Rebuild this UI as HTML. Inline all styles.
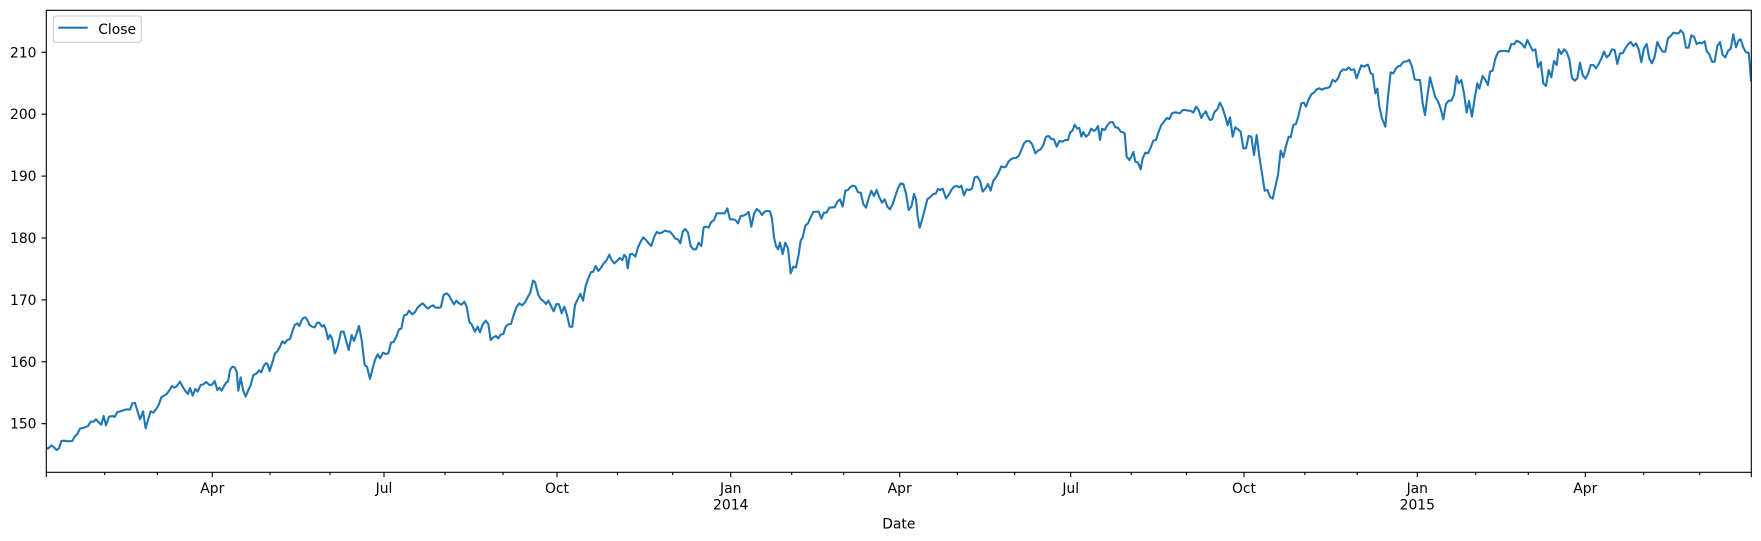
<!DOCTYPE html>
<html><head><meta charset="utf-8"><style>
html,body{margin:0;padding:0;background:#fff;}
svg{display:block;}
text{font-family:"DejaVu Sans","Liberation Sans",sans-serif;font-size:13.9px;fill:#000;}
</style></head><body>
<svg width="1761" height="541" viewBox="0 0 1761 541" xmlns="http://www.w3.org/2000/svg">
<rect width="1761" height="541" fill="#fff"/>
<defs><clipPath id="ax"><rect x="46.3" y="10.3" width="1705" height="462"/></clipPath></defs>
<g clip-path="url(#ax)" fill="none" stroke="#1f77b4" stroke-width="2.1" stroke-linejoin="round" stroke-linecap="round">
<g transform="translate(44,320) scale(0.333333)">
<polyline vector-effect="non-scaling-stroke" points="7,383 12,386 22,376 30,382 38,390 45,385 52,363 60,362 70,364 85,363 92,350 100,342 108,326 120,323 132,318 140,305 148,305 156,298 164,307 172,314 179,288 186,316 195,290 205,288 212,291 220,276 230,274 240,270 250,268 258,269 265,250 273,249 280,272 288,298 297,274 305,325 313,297 320,274 328,278 336,268 344,255 352,232 360,227 368,222 376,211 384,198 391,203 398,199 408,185 416,200 424,213 432,222 438,204 446,227 454,207 461,215 470,195 478,193 487,186 496,195 504,194 512,183 520,210 526,203 533,212 540,198 548,186 552,185 558,150 565,140 572,142 578,155 583,212 590,172 597,210 605,230 613,210 620,196 628,165 635,162 640,158 645,151 652,157 658,140 665,130 670,131 677,153 685,128 693,100 700,94 708,80 715,64 722,70 730,60 738,57 745,35 752,15 760,10 766,18 772,2 778,-6 784,-8 790,0 796,14 804,20 812,22 820,8 826,8 834,20 840,15 846,30 852,58 858,45 864,55 872,98"/>
</g>
<g transform="translate(335,210) scale(0.333333)">
<polyline vector-effect="non-scaling-stroke" points="0,430 8,410 18,365 26,365 34,395 41,420 50,375 57,393 65,370 72,348 80,390 89,465 96,470 105,507 113,475 120,450 128,433 135,445 144,428 152,432 160,430 168,398 176,396 184,380 192,358 199,356 207,316 215,314 222,302 232,313 240,306 248,293 256,285 263,280 270,287 278,296 286,290 294,286 302,293 315,293 318,290 326,255 335,250 342,256 350,272 357,283 364,272 372,280 380,284 388,275 395,290 403,336 410,343 420,365 428,350 435,367 443,343 452,332 460,342 467,390 475,382 483,378 490,385 497,374 505,372 512,350 520,343 528,342 536,315 545,290 553,280 561,286 570,277 578,262 586,247 594,212 600,216 610,255 618,268 626,274 633,282 640,272 648,288 656,304 664,282 672,283 680,310 688,290 696,315 704,350 712,350 720,285 728,268 736,252 744,272 752,228 760,205 768,186 774,186 782,168 790,183 798,173 806,160 814,152 823,134 830,150 838,160 846,153 854,144 862,150 868,135"/>
</g>
<g transform="translate(626,160) scale(0.333333)">
<polyline vector-effect="non-scaling-stroke" points="-6,285 0,290 5,325 12,283 20,282 28,290 36,262 44,245 52,232 60,240 68,250 76,258 84,232 92,216 100,220 108,218 116,212 124,214 132,215 140,224 148,236 156,238 163,250 170,215 178,207 186,218 194,258 202,268 210,268 218,248 226,258 233,202 240,200 248,203 255,187 264,180 272,160 280,160 288,160 296,160 304,145 312,178 320,178 328,180 336,190 344,168 352,167 360,163 368,156 376,200 384,162 392,147 400,153 408,165 416,155 424,153 432,154 438,176 444,232 450,258 456,268 462,248 470,282 478,248 486,265 494,340 502,320 510,322 518,283 524,242 530,232 538,197 546,190 554,172 562,156 570,155 578,155 586,176 594,158 602,158 610,143 618,142 626,142 634,125 642,118 650,140 658,92 666,90 672,82 680,77 688,79 696,97 704,98 712,132 720,143 728,115 736,92 744,108 752,90 760,112 768,128 776,118 784,140 792,148 800,132 808,108 816,85 824,70 832,72 840,100 848,150 856,140 864,102"/>
</g>
<g transform="translate(916,90) scale(0.333333)">
<polyline vector-effect="non-scaling-stroke" points="-6,312 0,328 5,380 11,413 18,390 26,360 34,328 44,320 52,312 60,310 66,297 72,300 80,296 90,325 98,315 106,300 114,290 122,288 130,292 136,287 144,316 152,298 160,300 168,296 176,262 184,260 192,272 200,305 208,296 216,282 224,302 232,272 240,262 248,248 256,229 264,232 270,230 278,214 286,207 294,204 300,204 308,198 316,180 324,160 332,153 340,153 348,162 358,190 366,182 374,178 382,165 390,140 398,138 406,147 414,148 422,170 430,153 440,155 448,150 456,150 462,128 470,121 476,104 484,116 490,114 496,140 502,126 510,140 518,133 526,116 534,123 540,118 546,108 552,150 558,116 566,120 574,106 582,97 590,96 598,112 606,113 614,125 620,126 626,130 632,200 640,210 646,200 652,186 658,215 666,218 674,238 680,205 688,188 696,190 704,173 712,152 720,150 728,125 736,105 744,95 752,84 760,87 768,70 776,67 784,68 792,70 800,60 808,60 816,62 824,62 832,68 840,50 848,60 856,84 862,72 868,68"/>
</g>
<g transform="translate(1206,40) scale(0.333333)">
<polyline vector-effect="non-scaling-stroke" points="-2,214 0,215 6,230 12,240 18,238 26,215 34,208 42,188 50,205 58,230 65,256 72,232 80,290 88,262 96,268 104,275 112,325 120,325 128,288 136,290 144,345 152,285 160,350 168,400 176,452 184,450 192,470 200,476 208,440 216,405 224,332 232,352 240,318 248,290 254,292 262,255 270,252 278,225 286,190 294,188 300,200 308,178 316,163 324,158 332,148 340,145 348,149 356,145 364,144 372,140 380,120 388,125 396,115 404,95 412,88 420,90 428,82 436,90 444,88 452,115 460,92 466,76 474,80 480,76 486,74 494,100 500,102 508,160 514,146 520,200 528,235 538,260 546,170 554,97 562,100 570,85 578,78 582,78"/>
</g>
<g transform="translate(1400,0) scale(0.333333)">
<polyline vector-effect="non-scaling-stroke" points="0,198 10,186 20,184 28,180 36,200 44,238 52,240 60,240 68,310 75,345 82,290 90,232 98,262 106,292 114,304 122,326 130,358 138,312 146,302 154,302 162,284 170,228 176,250 184,240 192,280 200,338 207,303 216,350 224,295 232,250 238,266 248,228 256,240 264,255 270,215 278,212 286,176 294,157 302,153 310,153 318,153 326,155 334,132 342,133 350,122 358,126 366,132 374,143 382,120 390,136 398,152 406,148 414,202 422,186 430,250 438,258 446,210 454,232 462,183 470,195 476,148 484,162 492,148 500,156 508,178 516,234 524,242 532,235 540,188 548,225 556,236 564,222 572,195 580,195 588,205 596,192 604,176 612,155 620,172 628,165 636,148 644,150 652,192 660,160 668,160 676,145 684,133 692,126 700,138 708,130 716,148 724,186 732,145 740,132 748,176 756,190 764,170 772,126 780,143 788,155 796,155 804,115 812,108 820,98 828,100 836,100 842,91 850,100 858,143 866,143 874,106 882,110 890,132 898,128 906,130 914,124 920,153 928,163 936,185 944,185 952,138 960,126 968,165 976,172 984,153 992,146 1000,103 1008,142 1016,121 1022,118 1030,142 1038,157 1046,158 1050,200 1053,242"/>
</g>
</g>
<!-- axes frame -->
<rect x="46.3" y="10.3" width="1705" height="462" fill="none" stroke="#000" stroke-width="1.1"/>
<!-- y ticks -->
<g stroke="#000" stroke-width="1.1">
<line x1="41.4" y1="423.7" x2="46.3" y2="423.7"/>
<line x1="41.4" y1="361.8" x2="46.3" y2="361.8"/>
<line x1="41.4" y1="299.9" x2="46.3" y2="299.9"/>
<line x1="41.4" y1="238" x2="46.3" y2="238"/>
<line x1="41.4" y1="176.1" x2="46.3" y2="176.1"/>
<line x1="41.4" y1="114.2" x2="46.3" y2="114.2"/>
<line x1="41.4" y1="52.3" x2="46.3" y2="52.3"/>
</g>
<g text-anchor="end">
<text x="36.5" y="428.7">150</text>
<text x="36.5" y="366.8">160</text>
<text x="36.5" y="304.9">170</text>
<text x="36.5" y="243">180</text>
<text x="36.5" y="181.1">190</text>
<text x="36.5" y="119.2">200</text>
<text x="36.5" y="57.3">210</text>
</g>
<!-- x major ticks -->
<g stroke="#000" stroke-width="1.1">
<line x1="46.3" y1="472.3" x2="46.3" y2="477.2"/>
<line x1="212.3" y1="472.3" x2="212.3" y2="477.2"/>
<line x1="384" y1="472.3" x2="384" y2="477.2"/>
<line x1="557" y1="472.3" x2="557" y2="477.2"/>
<line x1="730.7" y1="472.3" x2="730.7" y2="477.2"/>
<line x1="899.7" y1="472.3" x2="899.7" y2="477.2"/>
<line x1="1070.7" y1="472.3" x2="1070.7" y2="477.2"/>
<line x1="1244" y1="472.3" x2="1244" y2="477.2"/>
<line x1="1417.3" y1="472.3" x2="1417.3" y2="477.2"/>
<line x1="1585.3" y1="472.3" x2="1585.3" y2="477.2"/>
<line x1="1751.3" y1="472.3" x2="1751.3" y2="477.2"/>
</g>
<!-- x minor ticks -->
<g stroke="#000" stroke-width="1.1">
<line x1="104.7" y1="472.3" x2="104.7" y2="475.1"/>
<line x1="157.3" y1="472.3" x2="157.3" y2="475.1"/>
<line x1="270" y1="472.3" x2="270" y2="475.1"/>
<line x1="330" y1="472.3" x2="330" y2="475.1"/>
<line x1="445" y1="472.3" x2="445" y2="475.1"/>
<line x1="503" y1="472.3" x2="503" y2="475.1"/>
<line x1="617.5" y1="472.3" x2="617.5" y2="475.1"/>
<line x1="672.7" y1="472.3" x2="672.7" y2="475.1"/>
<line x1="791.7" y1="472.3" x2="791.7" y2="475.1"/>
<line x1="843.7" y1="472.3" x2="843.7" y2="475.1"/>
<line x1="957.3" y1="472.3" x2="957.3" y2="475.1"/>
<line x1="1014.7" y1="472.3" x2="1014.7" y2="475.1"/>
<line x1="1131.2" y1="472.3" x2="1131.2" y2="475.1"/>
<line x1="1186.4" y1="472.3" x2="1186.4" y2="475.1"/>
<line x1="1304.8" y1="472.3" x2="1304.8" y2="475.1"/>
<line x1="1357.2" y1="472.3" x2="1357.2" y2="475.1"/>
<line x1="1475.7" y1="472.3" x2="1475.7" y2="475.1"/>
<line x1="1528.3" y1="472.3" x2="1528.3" y2="475.1"/>
<line x1="1643.7" y1="472.3" x2="1643.7" y2="475.1"/>
<line x1="1699.7" y1="472.3" x2="1699.7" y2="475.1"/>
</g>
<g text-anchor="middle">
<text x="212.3" y="493">Apr</text>
<text x="384" y="493">Jul</text>
<text x="557" y="493">Oct</text>
<text x="730.7" y="493">Jan</text>
<text x="730.7" y="509.6">2014</text>
<text x="899.7" y="493">Apr</text>
<text x="1070.7" y="493">Jul</text>
<text x="1244" y="493">Oct</text>
<text x="1417.3" y="493">Jan</text>
<text x="1417.3" y="509.6">2015</text>
<text x="1585.3" y="493">Apr</text>
<text x="898.8" y="528.3">Date</text>
</g>
<!-- legend -->
<rect x="53.3" y="16" width="88" height="26.3" rx="2.8" ry="2.8" fill="#fff" fill-opacity="0.8" stroke="#cccccc" stroke-width="1.1"/>
<line x1="58.3" y1="27.7" x2="87.7" y2="27.7" stroke="#1f77b4" stroke-width="2.1"/>
<text x="98.2" y="34">Close</text>
</svg>
</body></html>
